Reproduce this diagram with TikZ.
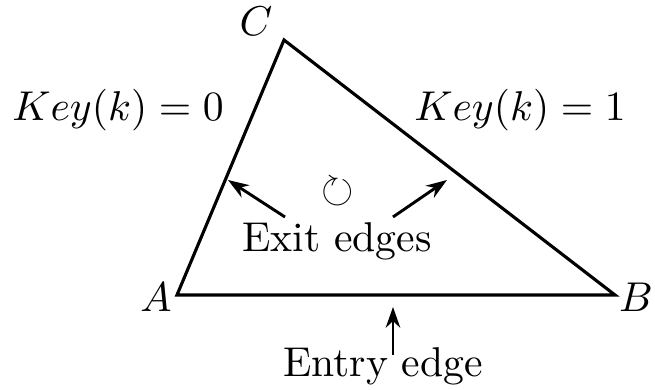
\documentclass[tikz,border=0pt]{standalone}
\usepackage{amssymb}
\usetikzlibrary{arrows.meta}
\begin{document}
\begin{tikzpicture}[x=0.24pt,y=-0.24pt,
  edge/.style={line width=0.75pt,line cap=round,line join=miter},
  pointer/.style={line width=0.7pt,-{Stealth[length=5pt,width=3.5pt]}},
  lbl/.style={inner sep=0pt,font=\fontsize{10}{12}\selectfont}]
\useasboundingbox (0,0) rectangle (655,390);
\coordinate (A) at (177,295);
\coordinate (B) at (615,295);
\coordinate (C) at (284,40);
\draw[edge] (A) -- (B) -- (C) -- cycle;
\node[lbl] (la) at (156,297) {$A$};
\node[lbl] (lb) at (636,297) {$B$};
\node[lbl] (lc) at (256,21) {$C$};
\node[lbl] (k0) at (118,110) {$Key(k)=0$};
\node[lbl] (k1) at (520,110) {$Key(k)=1$};
\node[lbl] (exit) at (337,241) {Exit edges};
\node[lbl] (rot) at (338,192) {$\circlearrowright$};
\node[lbl] (entry) at (383,366) {Entry edge};
\coordinate (e1s) at (285,217);
\coordinate (e1e) at (228,180);
\coordinate (e2s) at (393,217);
\coordinate (e2e) at (447,180);
\coordinate (ens) at (393,355);
\coordinate (ene) at (393,307);
\draw[pointer] (e1s) -- (e1e);
\draw[pointer] (e2s) -- (e2e);
\draw[pointer,line width=0.5pt] (ens) -- (ene);
\end{tikzpicture}
\end{document}
